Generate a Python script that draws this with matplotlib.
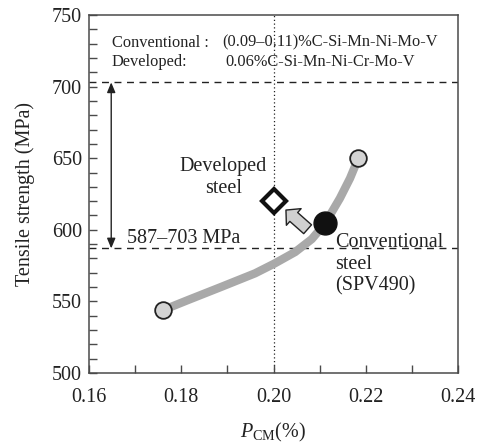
import numpy as np
import matplotlib
matplotlib.use("Agg")
import matplotlib.pyplot as plt
from matplotlib.ticker import MultipleLocator, FormatStrFormatter

plt.rcParams["font.family"] = ["Liberation Serif", "DejaVu Serif"]
plt.rcParams["mathtext.fontset"] = "custom"
plt.rcParams["mathtext.rm"] = "Liberation Serif"
plt.rcParams["mathtext.it"] = "Liberation Serif:italic"

# Trend curve
curve_pcm = [0.1761, 0.1815, 0.1888, 0.1960, 0.2003, 0.2047, 0.2083, 0.2112,
             0.2144, 0.2166, 0.2184]
curve_ts = [544.0, 551.0, 560.3, 569.6, 576.6, 584.5, 593.5, 604.5,
            622.0, 636.0, 650.0]

# Conventional steel end points (gray circles) and SPV490 (black circle)
conv_pcm = [0.1761, 0.2184]
conv_ts = [544.0, 650.0]
spv_pcm = [0.2112]
spv_ts = [604.5]

# Developed steel
dev_pcm = [0.2001]
dev_ts = [620.3]

# Required tensile strength range
ts_low, ts_high = 587, 703

ink = "#222222"
edge = "#4a4a4a"

fig = plt.figure(figsize=(4.79, 4.44), dpi=100)
ax = fig.add_axes([0.186, 0.160, 0.770, 0.806])

ax.plot(curve_pcm, curve_ts, color="#a9a9a9", lw=6, solid_capstyle="butt",
        solid_joinstyle="round", zorder=2)
ax.plot(conv_pcm, conv_ts, "o", ms=12, mfc="#d4d4d4", mec=ink, mew=1.3, zorder=4)
ax.plot(spv_pcm, spv_ts, "o", ms=16.5, mfc="#111111", mec="#111111", zorder=4)
ax.plot(dev_pcm, dev_ts, "D", ms=12, mfc="white", mec="#111111", mew=3.0, zorder=4)

# shift arrow from conventional to developed
ax.annotate("", xy=(0.2027, 613.8), xytext=(0.2074, 600.4),
            arrowprops=dict(arrowstyle="simple,head_length=0.75,head_width=1.6,tail_width=0.85",
                            fc="#d0d0d0", ec=ink, lw=1.0, shrinkA=0, shrinkB=0,
                            mutation_scale=10),
            zorder=3)

ax.axhline(ts_high, color=ink, ls=(0, (5, 4)), lw=1.0, zorder=1)
ax.axhline(ts_low, color=ink, ls=(0, (5, 4)), lw=1.0, zorder=1)
ax.axvline(0.20, color=ink, ls=(0, (1, 2)), lw=0.9, zorder=1)

ax.annotate("", xy=(0.1648, ts_high), xytext=(0.1648, ts_low),
            arrowprops=dict(arrowstyle="<|-|>,head_length=0.6,head_width=0.25",
                            color=ink, lw=1.0, shrinkA=0, shrinkB=0))

fs = 14.5
ax.text(0.1682, 590.6, "587\u2013703 MPa", fontsize=fs, color=ink, va="baseline", ha="left")
ax.text(0.1891, 641.3, "Developed", fontsize=fs, color=ink, va="baseline", ha="center")
ax.text(0.1891, 625.5, "steel", fontsize=fs, color=ink, va="baseline", ha="center")
ax.text(0.2133, 587.8, "Conventional", fontsize=fs, color=ink, va="baseline", ha="left")
ax.text(0.2133, 572.5, "steel", fontsize=fs, color=ink, va="baseline", ha="left")
ax.text(0.2133, 557.3, "(SPV490)", fontsize=fs, color=ink, va="baseline", ha="left")

fs2 = 11.8
ax.text(0.062, 0.912, "Conventional :", transform=ax.transAxes, fontsize=fs2,
        color=ink, va="baseline", ha="left")
ax.text(0.360, 0.912, "(0.09\u20130.11)%C-Si-Mn-Ni-Mo-V", transform=ax.transAxes,
        fontsize=fs2, color=ink, va="baseline", ha="left")
ax.text(0.062, 0.858, "Developed:", transform=ax.transAxes, fontsize=fs2,
        color=ink, va="baseline", ha="left")
ax.text(0.369, 0.858, "0.06%C-Si-Mn-Ni-Cr-Mo-V", transform=ax.transAxes,
        fontsize=fs2, color=ink, va="baseline", ha="left")

ax.set_xlim(0.16, 0.24)
ax.set_ylim(500, 750)
ax.xaxis.set_major_locator(MultipleLocator(0.02))
ax.xaxis.set_minor_locator(MultipleLocator(0.01))
ax.yaxis.set_major_locator(MultipleLocator(50))
ax.yaxis.set_minor_locator(MultipleLocator(10))
ax.xaxis.set_major_formatter(FormatStrFormatter("%.2f"))
ax.tick_params(which="both", direction="in", length=6, width=1.0, color=edge,
               labelsize=fs, labelcolor=ink, top=False, right=False)
ax.tick_params(axis="x", pad=11)
ax.tick_params(axis="y", pad=5)
for s in ax.spines.values():
    s.set_color(edge)
    s.set_linewidth(1.1)

ax.set_xlabel(r"$P_{\mathrm{CM}}$(%)", fontsize=fs, color=ink, labelpad=10)
ax.set_ylabel("Tensile strength (MPa)", fontsize=fs, color=ink, labelpad=12)

fig.savefig("out.png", dpi=100)
